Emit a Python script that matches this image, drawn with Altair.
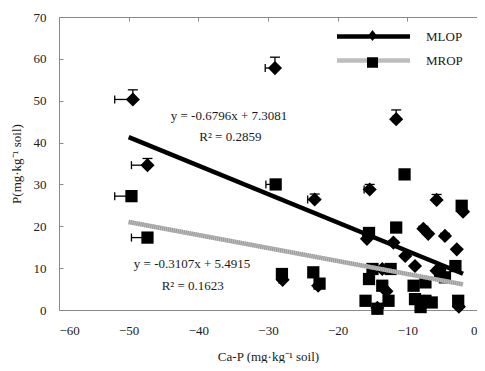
import altair as alt
import pandas as pd

# ---- data ----
series_names = ["MLOP", "MROP"]

mlop_x = [-49.4, -47.3, -29.0, -23.3, -11.6, -15.4, -5.8, -2.0, -7.7, -7.0, -4.6, -2.9,
          -15.8, -12.0, -10.3, -8.9, -5.8, -13.6, -2.6, -14.3, -27.9, -22.8, -13.0, -7.6]
mlop_y = [50.3, 34.6, 57.8, 26.4, 45.6, 28.8, 26.3, 23.5, 19.4, 18.2, 17.7, 14.5,
          17.0, 16.1, 12.9, 10.5, 9.4, 9.8, 0.8, 0.5, 7.2, 5.8, 4.5, 2.0]
mlop_xerr = [2.6, 2.3, 1.4, 1.0, 0.4, 0.8, 0.3, 0.0, 0.3, 0.2, 0.2, 0.0,
             0.3, 0.2, 0.0, 0.0, 0.0, 0.0, 0.0, 0.0, 0.5, 0.0, 0.0, 0.0]
mlop_yerr = [2.3, 1.6, 2.6, 1.3, 2.2, 1.2, 1.3, 0.0, 0.6, 0.4, 0.6, 0.3,
             0.8, 0.5, 0.0, 0.0, 0.0, 0.0, 0.0, 0.0, 0.0, 0.0, 0.0, 0.0]

mrop_x = [-49.6, -47.3, -28.9, -28.0, -23.5, -22.6, -10.4, -11.6, -15.5, -2.2, -15.0, -12.4,
          -15.5, -13.6, -16.0, -14.3, -12.7, -9.1, -8.9, -7.4, -6.5, -8.1, -3.1, -5.3,
          -4.6, -2.7, -7.4]
mrop_y = [27.2, 17.3, 30.0, 8.6, 9.0, 6.3, 32.4, 19.7, 18.4, 24.9, 9.8, 9.8,
          7.4, 5.8, 2.2, 0.3, 2.2, 5.8, 2.6, 2.2, 1.8, 0.7, 10.5, 9.0,
          7.8, 2.2, 6.6]
mrop_xerr = [2.4, 2.3, 1.4, 0.3, 0.0, 0.0, 0.0, 0.0, 0.3, 0.0, 0.0, 0.0,
             0.0, 0.0, 0.0, 0.0, 0.0, 0.0, 0.0, 0.0, 0.0, 0.0, 0.0, 0.0,
             0.0, 0.0, 0.0]
mrop_yerr = [0.3, 0.3, 0.3, 0.0, 0.0, 0.0, 0.3, 0.3, 0.3, 0.3, 0.0, 0.0,
             0.0, 0.0, 0.0, 0.0, 0.0, 0.0, 0.0, 0.0, 0.0, 0.0, 0.0, 0.0,
             0.0, 0.0, 0.0]

# trendlines as printed on the chart
slopes = [-0.6796, -0.3107]
intercepts = [7.3081, 5.4915]
trend_x_start = [-50.0, -50.0]
trend_x_end = [-2.0, -2.0]

eq_texts = ["y = -0.6796x + 7.3081", "R² = 0.2859", "y = -0.3107x + 5.4915", "R² = 0.1623"]
eq_x = [-35.6, -35.4, -40.9, -40.8]
eq_y = [46.3, 41.3, 11.0, 5.8]

x_ticks = [-60, -50, -40, -30, -20, -10, 0]
y_ticks = [0, 10, 20, 30, 40, 50, 60, 70]

FONT = "Liberation Serif"
TXT = "#1a1a1a"

# ---- tables ----
pts = pd.concat([
    pd.DataFrame({"series": "MLOP", "x": mlop_x, "y": mlop_y, "xerr": mlop_xerr, "yerr": mlop_yerr}),
    pd.DataFrame({"series": "MROP", "x": mrop_x, "y": mrop_y, "xerr": mrop_xerr, "yerr": mrop_yerr}),
], ignore_index=True)
pts["xlo"] = pts["x"] - pts["xerr"]
pts["yhi"] = pts["y"] + pts["yerr"]

trend = pd.DataFrame({
    "series": series_names * 2,
    "x": trend_x_start + trend_x_end,
    "slope": slopes * 2,
    "intercept": intercepts * 2,
})
eqs = pd.DataFrame({"label": eq_texts, "x": eq_x, "y": eq_y})
leg = pd.DataFrame({"series": series_names})

xs = alt.Scale(domain=[-60, 0], nice=False)
ys = alt.Scale(domain=[0, 70], nice=False)

X = lambda f: alt.X(f, type="quantitative", scale=xs,
                    axis=alt.Axis(values=x_ticks, title="Ca-P (mg·kg⁻¹ soil)"))
Y = lambda f: alt.Y(f, type="quantitative", scale=ys,
                    axis=alt.Axis(values=y_ticks, title="P(mg·kg⁻¹ soil)"))

base = alt.Chart(pts)

hbar = base.mark_rule(color="black", strokeWidth=1.3).encode(
    x=X("xlo"), x2="x", y=Y("y")).transform_filter("datum.xerr > 0")
hcap = base.mark_tick(orient="vertical", size=8, thickness=1.3, color="black", opacity=1).encode(
    x=X("xlo"), y=Y("y")).transform_filter("datum.xerr > 0")
vbar = base.mark_rule(color="black", strokeWidth=1.3).encode(
    x=X("x"), y=Y("y"), y2="yhi").transform_filter("datum.yerr > 0")
vcap = base.mark_tick(orient="horizontal", size=10, thickness=1.3, color="black", opacity=1).encode(
    x=X("x"), y=Y("yhi")).transform_filter("datum.yerr > 0")

points = base.mark_point(filled=True, color="black", opacity=1, strokeWidth=0).encode(
    x=X("x"), y=Y("y"),
    shape=alt.Shape("series:N", scale=alt.Scale(domain=series_names, range=["diamond", "square"]), legend=None),
    size=alt.Size("series:N", scale=alt.Scale(domain=series_names, range=[200, 150]), legend=None),
)

trend_base = alt.Chart(trend).transform_calculate(ty="datum.slope * datum.x + datum.intercept")

LEG_X = 307
LEG_Y = 12
common_leg = dict(orient="none", legendX=LEG_X, legendY=LEG_Y, title=None, symbolSize=100,
                  labelFont=FONT, labelFontSize=13, labelColor=TXT,
                  labelOffset=45, padding=0)

trend_lines = trend_base.mark_line(strokeWidth=4.5, strokeCap="butt").encode(
    x=X("x"), y=Y("ty:Q"), detail="series:N",
    color=alt.Color("series:N", scale=alt.Scale(range=["#000000", "#bdbdbd"]),
                    legend=alt.Legend(symbolType="M-7.3,0L7.3,0", symbolStrokeWidth=4.5,
                                      symbolFillColor="transparent", rowPadding=5, **common_leg)),
)
texture = trend_base.mark_line(strokeWidth=4.5, strokeCap="butt", color="#9a9a9a", strokeDash=[1, 1]).encode(
    x=X("x"), y=Y("ty:Q")).transform_filter("datum.series == 'MROP'")

# marker-only legend laid over the line legend (its labels are left empty)
legend_marks = alt.Chart(leg).mark_point(filled=True, color="black", opacity=1).encode(
    shape=alt.Shape("series:N",
                    scale=alt.Scale(domain=series_names,
                                    range=["M0,-1.1L0.85,0L0,1.1L-0.85,0Z",
                                           "M-1.1,-1.05L1.1,-1.05L1.1,1.05L-1.1,1.05Z"]),
                    legend=alt.Legend(symbolFillColor="black", symbolStrokeWidth=0,
                                      labelExpr="''", rowPadding=13, **common_leg)),
).transform_filter("false")

eq_text = alt.Chart(eqs).mark_text(font=FONT, fontSize=13, color=TXT).encode(
    x=X("x"), y=Y("y"), text="label:N")

chart = alt.layer(
    points, hbar, hcap, vbar, vcap, trend_lines, texture, legend_marks, eq_text
).resolve_scale(shape="independent", size="independent").properties(
    width=469, height=355,
    autosize=alt.AutoSizeParams(type="fit", contains="padding"),
    padding={"left": 2, "top": 3, "right": 0, "bottom": 0},
).configure_view(
    stroke="#8a8a8a", strokeWidth=1
).configure_axis(
    labelFont=FONT, labelFontSize=13, labelColor=TXT,
    titleFont=FONT, titleFontSize=13, titleColor=TXT, titleFontWeight="normal",
    domain=False, ticks=False, tickSize=0,
    grid=True, gridColor="#8a8a8a", gridDash=[4, 2000], gridWidth=1, gridOpacity=1,
).configure_axisY(
    labelPadding=13, titlePadding=10,
).configure_axisX(
    labelPadding=14, titlePadding=13,
)

chart.save("out.html", embed_options={"renderer": "svg", "actions": False})
